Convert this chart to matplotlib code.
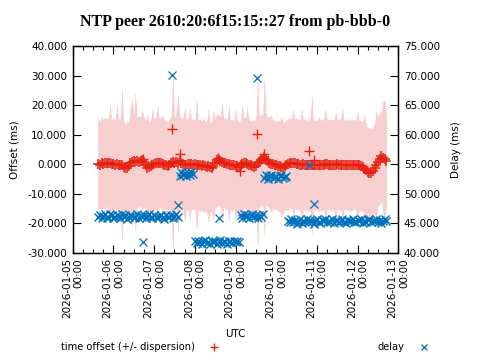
import matplotlib
matplotlib.use("Agg")
import matplotlib.pyplot as plt
import matplotlib.dates as mdates
from matplotlib.lines import Line2D
from matplotlib.ticker import FuncFormatter, MultipleLocator
import pandas as pd
import numpy as np

title = "NTP peer 2610:20:6f15:15::27 from pb-bbb-0"
start_time = "2026-01-05 15:00"

# time offset (ms), hourly samples
offset = [
    0.1, -0.2, 0.3, 0.0, 0.4, 0.5,
    0.2, 0.3, -0.1, 0.0, -0.3, 0.1,
    -0.2, -0.5, -0.4, -0.9, -1.2, -1.4,
    -0.6, 0.3, 0.8, 1.1, 0.7, 0.9,
    0.6, 1.0, 1.2, 0.8, -0.3, -1.2,
    -0.9, -0.6, -0.2, 0.0, 0.3, 0.2,
    0.4, 0.5, 0.1, -0.2, -0.4, -0.6,
    -0.3, 0.2, 0.6, 0.5, 0.8, 0.4,
    0.9, 0.2, 0.0, -0.2, -0.3, -0.1,
    0.0, 0.1, -0.2, -0.1, -0.4, -0.3,
    -0.5, -0.6, -0.4, -0.7, -0.9, -0.8,
    -1.1, -1.2, -0.6, 0.5, 1.2, 1.4,
    1.0, 0.7, 0.5, 0.2, 0.0, 0.1,
    -0.2, -0.4, -0.3, -0.6, -0.8, -1.0,
    -0.5, 0.1, 0.4, 0.2, 0.0, -0.3,
    -0.5, -0.7, -0.9, -0.6, 0.2, 0.8,
    1.2, 1.6, 2.4, 1.5, 0.9, 0.4,
    0.1, -0.1, -0.3, -0.4, -0.6, -0.8,
    -1.0, -1.3, -0.8, -0.4, 0.0, 0.2,
    0.3, 0.2, 0.2, 0.0, -0.1, -0.2,
    -0.3, -0.1, -0.2, -0.4, -0.3, -0.2,
    -0.3, -0.5, -0.4, -0.3, -0.2, -0.3,
    -0.4, -0.3, -0.1, 0.0, -0.2, -0.3,
    -0.2, -0.4, -0.3, -0.1, -0.2, -0.3,
    -0.4, -0.3, -0.2, -0.3, -0.5, -0.4,
    -0.3, -0.2, -0.3, -0.4, -0.5, -0.7,
    -1.0, -1.6, -2.2, -2.8, -3.0, -3.2,
    -2.4, -1.5, -0.4, 0.8, 1.8, 2.7,
    2.2, 1.6, 1.1,
]

# dispersion (ms), hourly samples
dispersion = [
    15.2, 14.8, 15.5, 15.0, 15.3, 14.9,
    15.4, 19.7, 15.1, 15.6, 15.0, 20.0,
    15.3, 16.0, 25.5, 15.2, 14.7, 15.8,
    15.0, 18.5, 21.7, 15.4, 23.0, 15.1,
    15.6, 15.0, 16.8, 15.3, 14.9, 18.0,
    15.2, 15.5, 19.0, 15.1, 15.7, 19.3,
    15.0, 15.4, 16.2, 15.0, 15.3, 14.8,
    15.5, 16.0, 29.0, 15.2, 16.5, 23.0,
    15.4, 15.0, 15.8, 19.0, 15.2, 15.6,
    18.5, 15.1, 15.4, 15.0, 21.7, 15.3,
    15.6, 15.1, 16.0, 15.2, 15.5, 19.0,
    15.0, 15.3, 18.5, 15.1, 15.7, 15.2,
    15.4, 20.0, 15.0, 15.5, 15.2, 19.5,
    15.1, 15.6, 15.0, 18.8, 15.4, 15.2,
    15.5, 19.8, 15.1, 15.6, 19.0, 15.2,
    15.0, 15.8, 15.3, 16.5, 27.8, 15.4,
    15.6, 15.1, 26.0, 15.3, 15.0, 15.5,
    16.3, 15.0, 15.2, 14.8, 15.4, 15.1,
    17.0, 15.3, 14.9, 15.2, 15.6, 15.0,
    15.4, 18.0, 15.1, 15.5, 15.0, 15.3,
    18.5, 15.2, 15.6, 15.0, 15.4, 15.8,
    23.0, 15.1, 15.3, 15.0, 16.0, 15.2,
    15.5, 15.1, 18.5, 15.3, 15.0, 15.6,
    15.2, 15.4, 18.0, 15.0, 15.3, 15.5,
    19.5, 15.1, 15.4, 15.0, 15.6, 15.2,
    15.3, 15.0, 15.5, 18.0, 15.2, 15.4,
    15.1, 18.5, 15.6, 15.0, 15.3, 15.2,
    15.0, 15.4, 18.3, 15.1, 15.5, 15.2,
    19.0, 20.0, 15.4,
]

# delay (ms), hourly samples
delay = [
    46.0, 46.4, 45.8, 46.2, 46.5, 45.9,
    46.1, 46.6, 46.3, 45.8, 46.0, 46.4,
    46.2, 45.9, 46.5, 46.1, 46.3, 45.7,
    46.0, 46.4, 46.2, 45.8, 46.1, 46.5,
    45.9, 46.3, 46.0, 46.4, 45.8, 46.2,
    46.5, 46.0, 45.9, 46.3, 46.1, 45.8,
    46.2, 46.4, 46.0, 45.7, 46.3, 46.1,
    46.0, 46.4, 45.9, 46.2, 46.5, 46.0,
    53.0, 53.6, 53.2, 53.5, 52.9, 53.4, 53.1, 53.7, 53.3,
    41.9, 41.6, 42.0, 41.7, 41.5, 41.9, 42.1, 41.6, 41.8, 41.4,
    42.0, 41.7, 41.9, 41.5, 41.8, 42.1, 41.6, 41.9, 41.7, 41.4,
    42.0, 41.8, 41.6, 41.9, 41.7, 42.0, 41.8,
    46.3, 45.9, 46.5, 46.1, 46.4, 45.8, 46.2, 46.6, 46.0, 46.3, 45.9, 46.4, 46.1, 46.5,
    52.7, 53.1, 52.5, 52.9, 53.2, 52.6, 52.8, 53.0, 52.4, 52.9, 53.1, 52.6, 52.8, 53.0,
    45.4, 45.1, 45.6, 45.2, 45.5, 44.9, 45.3, 45.7, 45.0, 45.4,
    45.2, 45.6, 45.1, 45.5, 45.3, 44.9, 45.4, 45.7, 45.2, 45.0,
    45.5, 45.3, 45.6, 45.1, 45.4, 45.2, 45.7, 45.0, 45.3, 45.5,
    45.1, 45.4, 45.6, 45.2, 45.0, 45.5, 45.3, 45.4, 45.7, 45.1,
    45.2, 45.5, 45.3, 45.6, 45.0, 45.4, 45.2, 45.5, 45.7, 45.1,
    45.3, 45.4, 45.6, 45.2, 45.5, 45.0, 45.3, 45.6, 45.4,
]

# isolated samples
offset_extra_times = ["2026-01-06 17:36", "2026-01-07 10:42", "2026-01-07 15:18",
                      "2026-01-08 13:42", "2026-01-09 02:42", "2026-01-09 12:30",
                      "2026-01-09 16:48", "2026-01-10 19:18", "2026-01-10 22:18"]
offset_extra = [1.7, 11.9, 3.3, 2.0, -2.4, 10.2, 3.3, 4.4, 1.4]
delay_extra_times = ["2026-01-06 17:30", "2026-01-07 10:36", "2026-01-07 14:06",
                     "2026-01-08 14:18", "2026-01-09 12:42", "2026-01-10 19:24",
                     "2026-01-10 22:18"]
delay_extra = [41.7, 70.1, 48.0, 45.9, 69.5, 54.9, 48.3]

x_start, x_end = "2026-01-05", "2026-01-13"

RED = "#e5200f"
BLUE = "#0072bd"
BAND = "#f8cfcf"

times = pd.date_range(start_time, periods=len(offset), freq="h")
off = np.array(offset)
disp = np.array(dispersion)

fig = plt.figure(figsize=(4.8, 3.6), dpi=100)
ax = fig.add_axes([0.1515, 0.2986, 0.6783, 0.5736])
ax2 = ax.twinx()

# dispersion band
ax.fill_between(times, off - disp, off + disp, color=BAND, lw=0, zorder=1)
ax.vlines(times, off - disp, off + disp, color=BAND, lw=0.8, alpha=0.7, zorder=1)
ax.plot(times, offset, ls="none", marker="+", ms=7, mew=1.1, color=RED, zorder=3)
ax.plot(pd.to_datetime(offset_extra_times), offset_extra, ls="none", marker="+",
        ms=7, mew=1.0, color=RED, zorder=3)

ax2.plot(pd.date_range(start_time, periods=len(delay), freq="h"), delay, ls="none",
         marker="x", ms=5.5, mew=1.0, color=BLUE, zorder=4)
ax2.plot(pd.to_datetime(delay_extra_times), delay_extra, ls="none", marker="x",
         ms=5.5, mew=0.9, color=BLUE, zorder=4)

ax.set_xlim(pd.Timestamp(x_start), pd.Timestamp(x_end))
ax.set_ylim(-30, 40)
ax2.set_ylim(40, 75)
ax.yaxis.set_major_locator(MultipleLocator(10))
ax2.yaxis.set_major_locator(MultipleLocator(5))
fmt = FuncFormatter(lambda v, p: f"{v:.3f}")
ax.yaxis.set_major_formatter(fmt)
ax2.yaxis.set_major_formatter(fmt)

ax.xaxis.set_major_locator(mdates.DayLocator())
ax.xaxis.set_minor_locator(mdates.HourLocator(byhour=[6, 12, 18]))
ax.xaxis.set_major_formatter(mdates.DateFormatter("%Y-%m-%d\n%H:%M"))

ax.tick_params(axis="x", which="major", direction="in", length=6, width=0.8,
               top=True, labelsize=7.5, labelrotation=90, pad=4)
ax.tick_params(axis="x", which="minor", direction="in", length=3, width=0.8, top=True)
ax.tick_params(axis="y", which="major", direction="in", length=6, width=0.8,
               labelsize=7.5, pad=4)
ax2.tick_params(axis="y", which="major", direction="in", length=6, width=0.8,
                labelsize=7.5, pad=4)

for lab in ax.xaxis.get_majorticklabels():
    lab.set_multialignment("right")
    lab.set_va("top")
    lab.set_ha("center")

for a in (ax, ax2):
    for s in a.spines.values():
        s.set_linewidth(0.9)

ax.set_ylabel("Offset (ms)", fontsize=7.5, labelpad=6)
ax2.set_ylabel("Delay (ms)", fontsize=7.5, labelpad=8, rotation=90)
fig.text(0.49, 0.94, title, ha="center", va="center", fontsize=11.5,
         fontweight="bold", family="Liberation Serif")

fig.text(0.49, 0.072, "UTC", ha="center", va="center", fontsize=7.5)
fig.text(0.406, 0.036, "time offset (+/- dispersion)", ha="right", va="center",
         fontsize=7.1)
fig.add_artist(Line2D([0.446], [0.036], marker="+", ms=6, mew=1.0, color=RED,
                      ls="none", transform=fig.transFigure))
fig.text(0.842, 0.036, "delay", ha="right", va="center", fontsize=7.1)
fig.add_artist(Line2D([0.884], [0.036], marker="x", ms=5, mew=0.9, color=BLUE,
                      ls="none", transform=fig.transFigure))

fig.savefig("out.png", dpi=100)
